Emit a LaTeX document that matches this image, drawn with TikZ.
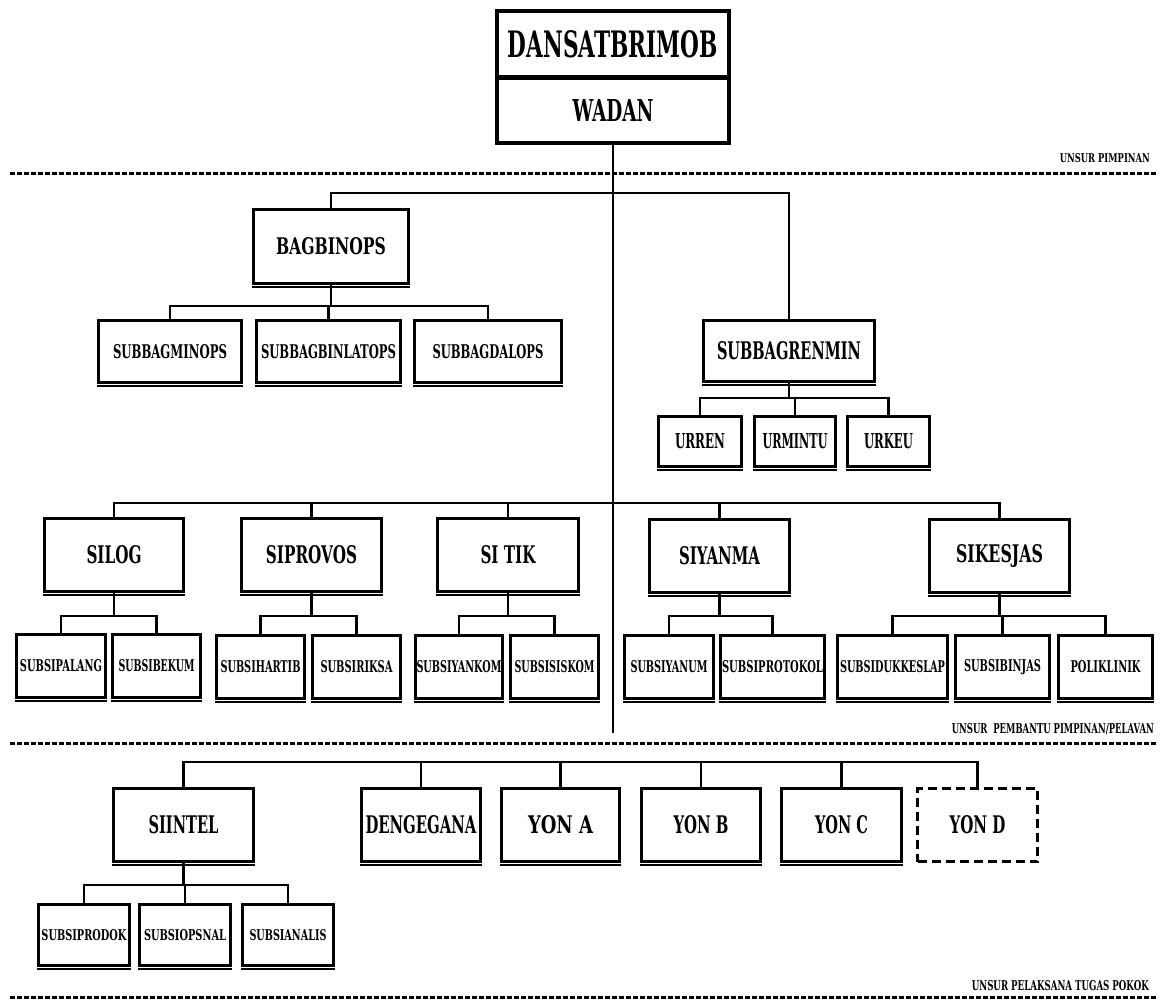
\documentclass[tikz,border=0pt]{standalone}
\usepackage{fontspec}
\setmainfont{DejaVu Serif}
\usepackage{graphicx}
\newcommand{\fitt}[3]{\resizebox{#1pt}{#2pt}{\bfseries #3}}
% \obox[style]{name}{cx}{cy}{w}{h}{text w}{text h}{text}
\newcommand{\obox}[9][]{\node[box,#1,minimum width=#5pt,minimum height=#6pt] (#2) at (#3,#4) {\fitt{#7}{#8}{#9}};}
\tikzset{
  box/.style={draw, line width=3.2pt, inner sep=0pt, fill=white},
  topbox/.style={line width=4pt},
  dbox/.style={dashed, dash pattern=on 9pt off 5pt, line width=3pt},
  conn/.style={line width=2.6pt},
  dotl/.style={line width=3pt, dash pattern=on 4.5pt off 2.5pt},
  lbl/.style={inner sep=0pt},
  shade/.style={line width=2pt}
}
\begin{document}
\begin{tikzpicture}[x=1pt,y=-1pt]
\useasboundingbox (0,0) rectangle (1166,1001);
\fill[white] (0,0) rectangle (1166,1001);

% --- top box
\obox[topbox]{dan}{613}{44}{232}{66}{210}{27}{DANSATBRIMOB}
\obox[topbox]{wadan}{613}{110.5}{232}{65}{81}{22}{WADAN}

% --- separators and labels
\coordinate (d1a) at (10,173); \coordinate (d1b) at (1158,173);
\coordinate (d2a) at (10,743); \coordinate (d2b) at (1158,743);
\coordinate (d3a) at (10,997); \coordinate (d3b) at (1158,997);
\draw[dotl] (d1a) -- (d1b);
\draw[dotl] (d2a) -- (d2b);
\draw[dotl] (d3a) -- (d3b);
\node[lbl, anchor=base east] (l1) at (1150,162) {\fitt{90}{9}{UNSUR PIMPINAN}};
\node[lbl, anchor=base east] (l2) at (1154,733) {\fitt{202}{10}{UNSUR\ \ PEMBANTU PIMPINAN/PELAVAN}};
\node[lbl, anchor=base east] (l3) at (1149,990) {\fitt{177}{10}{UNSUR PELAKSANA TUGAS POKOK}};

% --- BAGBINOPS
\obox{bag}{331}{246.5}{155}{74}{110}{17}{BAGBINOPS}
\obox{sbmin}{170}{351.5}{143}{62}{114}{14}{SUBBAGMINOPS}
\obox{sbbin}{328.5}{351.5}{144}{62}{135}{14}{SUBBAGBINLATOPS}
\obox{sbdal}{488}{351.5}{147}{62}{111}{14}{SUBBAGDALOPS}

% --- SUBBAGRENMIN
\obox{renmin}{789}{351}{171}{61}{144}{18}{SUBBAGRENMIN}
\obox{urren}{700}{441.5}{83}{50}{50}{15}{URREN}
\obox{urmintu}{795}{441.5}{81}{50}{65}{15}{URMINTU}
\obox{urkeu}{888.5}{441.5}{82}{50}{49}{15}{URKEU}

% --- SI row
\obox{silog}{114}{555}{139}{73}{55}{18}{SILOG}
\obox{siprovos}{311.5}{555}{140}{73}{91}{18}{SIPROVOS}
\obox{sitik}{508}{555}{141}{73}{55}{18}{SI TIK}
\obox{siyanma}{719.5}{556}{140}{73}{81}{18}{SIYANMA}
\obox{sikesjas}{999.5}{556}{140}{73}{87}{18}{SIKESJAS}

\obox{spalang}{61}{666}{89}{63}{82}{12}{SUBSIPALANG}
\obox{sbekum}{156.5}{666}{88}{63}{76}{12}{SUBSIBEKUM}
\obox{shartib}{260.5}{667}{88}{63}{80}{12}{SUBSIHARTIB}
\obox{sriksa}{356.5}{667}{88}{63}{72}{12}{SUBSIRIKSA}
\obox{syankom}{459}{667}{87}{63}{85}{12}{SUBSIYANKOM}
\obox{ssiskom}{554.5}{667}{88}{63}{80}{12}{SUBSISISKOM}
\obox{syanum}{669}{667}{89}{63}{77}{12}{SUBSIYANUM}
\obox{sprotokol}{772.5}{667}{104}{63}{101}{12}{SUBSIPROTOKOL}
\obox{sdukkes}{892.5}{667}{110}{63}{105}{12}{SUBSIDUKKESLAP}
\obox{sbinjas}{1002.5}{667}{94}{63}{77}{12}{SUBSIBINJAS}
\obox{poli}{1105.5}{667}{94}{63}{70}{12}{POLIKLINIK}

% --- bottom row
\obox{siintel}{183.5}{825}{140}{73}{70}{18}{SIINTEL}
\obox{dengegana}{421}{825}{119}{73}{111}{18}{DENGEGANA}
\obox{yona}{560.5}{825}{118}{73}{65}{18}{YON A}
\obox{yonb}{701}{825}{119}{73}{55}{18}{YON B}
\obox{yonc}{841.5}{825}{120}{73}{53}{18}{YON C}
\obox[dbox]{yond}{977.5}{825}{120}{73}{56}{18}{YON D}

\obox{sprodok}{84}{935}{91}{61}{85}{11}{SUBSIPRODOK}
\obox{sopsnal}{185}{935}{91}{61}{82}{11}{SUBSIOPSNAL}
\obox{sanalis}{288}{935}{91}{61}{77}{11}{SUBSIANALIS}

% --- heavier bottom edges
\foreach \n in {bag,sbmin,sbbin,sbdal,renmin,urren,urmintu,urkeu,silog,siprovos,sitik,siyanma,sikesjas,spalang,sbekum,shartib,sriksa,syankom,ssiskom,syanum,sprotokol,sdukkes,sbinjas,poli,siintel,dengegana,yona,yonb,yonc,sprodok,sopsnal,sanalis}
  \draw[shade] ([yshift=-2pt]\n.south west) -- ([yshift=-2pt]\n.south east);

% --- connectors
\coordinate (mainend) at (613,733);
\draw[conn] (wadan.south) -- (mainend);
\draw[conn] (bag.north) -- ++(0,-15) -| (renmin.north);

\draw[conn] (bag.south) -- ++(0,21) coordinate (bagb);
\foreach \c in {sbmin,sbbin,sbdal} \draw[conn] (\c.north) |- (bagb);

\draw[conn] (renmin.south) -- ++(0,15) coordinate (renb);
\foreach \c in {urren,urmintu,urkeu} \draw[conn] (\c.north) |- (renb);

\coordinate (sibus) at (613,503);
\foreach \c in {silog,siprovos,sitik,siyanma,sikesjas} \draw[conn] (\c.north) |- (sibus);

\draw[conn] (silog.south) -- ++(0,23) coordinate (silogb);
\foreach \c in {spalang,sbekum} \draw[conn] (\c.north) |- (silogb);
\draw[conn] (siprovos.south) -- ++(0,23) coordinate (siprovb);
\foreach \c in {shartib,sriksa} \draw[conn] (\c.north) |- (siprovb);
\draw[conn] (sitik.south) -- ++(0,23) coordinate (sitikb);
\foreach \c in {syankom,ssiskom} \draw[conn] (\c.north) |- (sitikb);
\draw[conn] (siyanma.south) -- ++(0,22) coordinate (siyanb);
\foreach \c in {syanum,sprotokol} \draw[conn] (\c.north) |- (siyanb);
\draw[conn] (sikesjas.south) -- ++(0,22) coordinate (sikesb);
\foreach \c in {sdukkes,sbinjas,poli} \draw[conn] (\c.north) |- (sikesb);

\coordinate (pbus) at (613,762);
\foreach \c in {siintel,dengegana,yona,yonb,yonc,yond} \draw[conn] (\c.north) |- (pbus);

\draw[conn] (siintel.south) -- ++(0,22) coordinate (sintb);
\foreach \c in {sprodok,sopsnal,sanalis} \draw[conn] (\c.north) |- (sintb);
\end{tikzpicture}
\end{document}
